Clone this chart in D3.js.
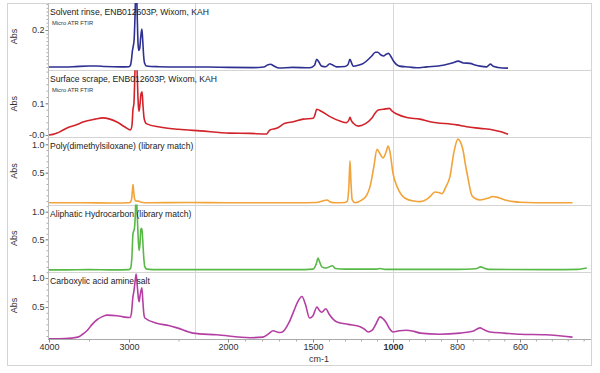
<!doctype html>
<html lang='en'>
<head>
<meta charset='UTF-8'>
<title>FTIR spectra</title>
<script src='https://cdn.jsdelivr.net/npm/d3@7/dist/d3.min.js'></script>
<style>
    body { margin: 0; background: #fff; }
    text { font-family: Arial, 'Liberation Sans', sans-serif; }
</style>
</head>
<body>
<div id='chart'></div>
<script>
    const SIZE = { width: 600, height: 373 };
    const PLOT = { left: 48, right: 591, top: 3, bottom: 339 };

    // x axis: wavenumber, drawn with a piecewise (compressed) scale
    const xBreaks = [4000, 3000, 2000, 1500, 1000, 800, 600, 380];
    const xBreakPx = [49, 129, 228, 313, 393, 457, 520, 590];
    const xTicks = [4000, 3000, 2000, 1500, 1000, 800, 600];
    const xGrid = [2330, 1000];

    const panelTitles = [
        'Solvent rinse, ENB012603P, Wixom, KAH',
        'Surface scrape, ENB012603P, Wixom, KAH',
        'Poly(dimethylsiloxane) (library match)',
        'Aliphatic Hydrocarbon (library match)',
        'Carboxylic acid amine salt'
    ];
    const panelSubtitles = ['Micro ATR FTIR', 'Micro ATR FTIR', '', '', ''];
    const panelColors = ['#2e3192', '#d2232a', '#f2a33a', '#58b947', '#b43fa3'];
    const yDomains = [[-0.017, 0.346], [-0.0076, 0.2044], [-0.062, 1.121], [-0.089, 1.129], [-0.052, 1.107]];
    const yTickValues = [[0.2], [0.1, 0], [1.0, 0.5], [1.0, 0.5], [1.0, 0.5]];
    const yTickLabels = [['0.2'], ['0.1', '-0.0'], ['1.0', '0.5'], ['1.0', '0.5'], ['1.0', '0.5']];
    const yMinorStep = [0.02, 0.02, 0.1, 0.1, 0.1];

    // [wavenumber cm-1, absorbance]
    const solventRinse = [[4000,0],[3900,0],[3700,0.002],[3500,0.006],[3400,0.006],[3300,0.003],[3100,0.001],[3000,0.002],[2985,0.01],[2975,0.04],[2965,0.09],[2958,0.11],[2948,0.15],[2938,0.3],[2928,0.5],[2918,0.3],[2908,0.12],[2900,0.09],[2892,0.1],[2882,0.16],[2870,0.205],[2862,0.15],[2852,0.06],[2842,0.02],[2825,0.006],[2700,0.002],[2500,0],[2200,0],[2000,-0.002],[1850,-0.003],[1790,0],[1765,0.012],[1750,0.015],[1730,0.006],[1700,-0.005],[1620,-0.002],[1520,-0.004],[1490,0.01],[1477,0.042],[1465,0.03],[1446,0.005],[1420,0.002],[1395,0.018],[1380,0.012],[1352,0.001],[1300,0.003],[1282,0.012],[1269,0.042],[1258,0.02],[1248,0.004],[1215,0.01],[1185,0.02],[1150,0.045],[1133,0.06],[1110,0.08],[1095,0.08],[1075,0.065],[1060,0.06],[1040,0.07],[1029,0.074],[1015,0.06],[999,0.034],[980,0.005],[950,0],[926,-0.004],[895,0.001],[843,0.01],[815,0.022],[796,0.032],[780,0.022],[759,0.02],[740,0.01],[727,0.005],[706,0.001],[694,0.016],[685,0.004],[670,-0.002],[638,-0.006]];
    const surfaceScrape = [[4000,0],[3950,0.002],[3900,0.006],[3850,0.012],[3775,0.022],[3650,0.033],[3575,0.041],[3425,0.05],[3325,0.054],[3240,0.05],[3150,0.041],[3050,0.025],[2985,0.016],[2970,0.03],[2960,0.08],[2950,0.1],[2940,0.2],[2928,0.3],[2918,0.2],[2905,0.09],[2898,0.075],[2888,0.1],[2878,0.13],[2868,0.136],[2858,0.09],[2848,0.054],[2835,0.04],[2820,0.035],[2690,0.025],[2500,0.018],[2280,0.013],[1990,0.006],[1871,0.005],[1773,0.003],[1760,0.012],[1753,0.016],[1714,0.021],[1665,0.037],[1616,0.042],[1557,0.05],[1498,0.053],[1487,0.065],[1477,0.081],[1446,0.074],[1394,0.058],[1331,0.044],[1290,0.039],[1275,0.048],[1269,0.056],[1260,0.045],[1248,0.037],[1217,0.028],[1175,0.035],[1133,0.053],[1110,0.07],[1092,0.079],[1060,0.081],[1023,0.084],[1005,0.075],[988,0.066],[957,0.055],[916,0.05],[884,0.042],[801,0.032],[769,0.026],[727,0.021],[685,0.016],[660,0.01],[638,0.002]];
    const pdms = [[4000,-0.03],[3600,-0.03],[3200,-0.035],[3000,-0.03],[2985,-0.02],[2972,0.05],[2965,0.2],[2960,0.29],[2954,0.2],[2945,0.05],[2930,0.0],[2905,0.0],[2880,-0.02],[2800,-0.03],[2400,-0.025],[2000,-0.03],[1600,-0.03],[1480,-0.025],[1440,0.0],[1412,0.02],[1395,-0.01],[1360,-0.03],[1300,-0.025],[1285,0.0],[1275,0.3],[1269,0.71],[1263,0.35],[1255,0.02],[1237,-0.03],[1194,0.02],[1165,0.1],[1144,0.25],[1120,0.6],[1100,0.91],[1085,0.85],[1062,0.76],[1045,0.85],[1030,0.97],[1018,0.85],[1000,0.49],[987,0.25],[975,0.12],[962,0.05],[935,0.0],[915,-0.01],[895,0.03],[884,0.08],[869,0.16],[857,0.15],[847,0.13],[835,0.25],[822,0.43],[810,0.85],[797,1.09],[790,1.05],[781,0.9],[772,0.6],[766,0.43],[753,0.1],[740,0.04],[727,0.02],[710,0.04],[695,0.065],[688,0.08],[675,0.07],[663,0.05],[648,0.02],[620,-0.01],[600,-0.02],[500,-0.03],[435,-0.03]];
    const aliphatic = [[4000,-0.055],[3800,-0.055],[3500,-0.05],[3200,-0.055],[3000,-0.05],[2985,-0.03],[2970,0.2],[2960,0.6],[2945,0.7],[2935,1.0],[2928,1.4],[2918,1.0],[2905,0.45],[2898,0.3],[2890,0.4],[2880,0.68],[2870,0.7],[2862,0.5],[2850,0.15],[2840,0.0],[2820,-0.04],[2700,-0.05],[2400,-0.05],[2000,-0.05],[1600,-0.05],[1500,-0.04],[1480,0.05],[1468,0.16],[1460,0.1],[1445,0.0],[1420,-0.02],[1378,0.02],[1360,-0.03],[1300,-0.04],[1100,-0.04],[1080,-0.03],[1050,-0.045],[900,-0.045],[800,-0.045],[740,-0.035],[725,0.0],[715,-0.02],[700,-0.045],[500,-0.05],[420,-0.045],[390,-0.02]];
    const amineSalt = [[4000,-0.05],[3800,-0.045],[3640,-0.02],[3580,0.03],[3520,0.1],[3460,0.2],[3400,0.28],[3340,0.33],[3275,0.36],[3150,0.35],[3075,0.33],[2990,0.32],[2975,0.4],[2962,0.65],[2948,0.8],[2938,0.95],[2928,1.07],[2918,0.9],[2905,0.65],[2898,0.59],[2888,0.7],[2870,0.83],[2860,0.6],[2850,0.38],[2840,0.31],[2720,0.22],[2600,0.18],[2515,0.14],[2355,0.05],[2115,0.02],[1870,-0.03],[1795,-0.02],[1760,0.04],[1735,0.09],[1700,0.06],[1680,0.07],[1640,0.24],[1610,0.45],[1590,0.59],[1565,0.68],[1545,0.55],[1520,0.31],[1500,0.35],[1475,0.5],[1460,0.44],[1445,0.41],[1420,0.47],[1400,0.38],[1350,0.24],[1280,0.2],[1205,0.16],[1180,0.12],[1155,0.07],[1130,0.1],[1110,0.19],[1080,0.33],[1060,0.29],[1045,0.24],[1020,0.12],[1000,0.07],[980,0.09],[960,0.1],[935,0.08],[915,0.05],[855,0.03],[790,0.05],[750,0.08],[727,0.14],[715,0.11],[695,0.07],[650,0.05],[600,0.03],[520,0.02],[435,-0.02]];
    const spectra = [solventRinse, surfaceScrape, pdms, aliphatic, amineSalt];

    function draw() {
        const svg = d3.select('#chart').append('svg')
            .attr('width', SIZE.width).attr('height', SIZE.height);

        // outer frame
        svg.append('rect')
            .attr('x', 7.5).attr('y', 3.5).attr('width', 584).attr('height', 362)
            .attr('fill', 'none').attr('stroke', '#d4d4d4');

        const x = d3.scaleLinear().domain(xBreaks).range(xBreakPx);
        const ph = (PLOT.bottom - PLOT.top) / spectra.length;

        // vertical grid lines
        svg.selectAll('.vgrid').data(xGrid).enter().append('line')
            .attr('x1', d => Math.round(x(d)) + 0.5).attr('x2', d => Math.round(x(d)) + 0.5)
            .attr('y1', PLOT.top).attr('y2', PLOT.bottom)
            .attr('stroke', '#d8d8d8');

        spectra.forEach(function (data, i) {
            const top = PLOT.top + i * ph;
            const bottom = top + ph;
            const y = d3.scaleLinear().domain(yDomains[i]).range([bottom, top]);
            const g = svg.append('g');

            // panel separator
            g.append('line')
                .attr('x1', PLOT.left).attr('x2', PLOT.right)
                .attr('y1', Math.round(top) + 0.5).attr('y2', Math.round(top) + 0.5)
                .attr('stroke', '#d4d4d4');

            // minor y ticks
            const step = yMinorStep[i];
            const minor = d3.range(Math.ceil(yDomains[i][0] / step) * step, yDomains[i][1], step);
            const minorAxis = g.append('g')
                .attr('transform', 'translate(' + (PLOT.left + 0.5) + ',0)')
                .call(d3.axisLeft(y).tickValues(minor).tickSize(2).tickFormat(''));
            minorAxis.select('.domain').remove();
            minorAxis.selectAll('line').attr('stroke', '#aaa');

            // labelled y ticks
            const yAxis = g.append('g')
                .attr('transform', 'translate(' + (PLOT.left + 0.5) + ',0)')
                .call(d3.axisLeft(y).tickValues(yTickValues[i]).tickSize(3).tickPadding(1)
                    .tickFormat((d, j) => yTickLabels[i][j]));
            yAxis.select('.domain').remove();
            yAxis.selectAll('line').attr('stroke', '#888');
            yAxis.selectAll('text').style('font-size', '9px').attr('fill', '#333')
                .style('font-family', 'Arial, Liberation Sans, sans-serif');

            g.append('text')
                .attr('transform', 'translate(17,' + (top + ph / 2) + ')rotate(-90)')
                .attr('text-anchor', 'middle')
                .style('font-size', '9px').attr('fill', '#333')
                .text('Abs');

            // spectrum
            const clipId = 'clip' + i;
            svg.append('clipPath').attr('id', clipId).append('rect')
                .attr('x', PLOT.left).attr('y', top).attr('width', PLOT.right - PLOT.left).attr('height', ph);
            const line = d3.line()
                .x(d => x(d[0]))
                .y(d => y(d[1]))
                .curve(d3.curveMonotoneX);
            g.append('path')
                .attr('d', line(data))
                .attr('clip-path', 'url(#' + clipId + ')')
                .attr('fill', 'none')
                .attr('stroke', panelColors[i])
                .attr('stroke-width', 1.6)
                .attr('stroke-linejoin', 'round');

            g.append('text')
                .attr('x', PLOT.left + 2).attr('y', top + 12)
                .style('font-size', '8.6px').attr('fill', '#222')
                .text(panelTitles[i]);
            if (panelSubtitles[i]) {
                g.append('text')
                    .attr('x', PLOT.left + 4).attr('y', top + 21.5)
                    .style('font-size', '5.8px').attr('fill', '#333')
                    .text(panelSubtitles[i]);
            }
        });

        // left axis line
        svg.append('line')
            .attr('x1', PLOT.left + 0.5).attr('x2', PLOT.left + 0.5)
            .attr('y1', PLOT.top).attr('y2', PLOT.bottom)
            .attr('stroke', '#bbb');

        // x axis
        const minorX = d3.range(4000, 2000, -500).concat(d3.range(2000, 1000, -100), d3.range(1000, 380, -50));
        const xMinor = svg.append('g')
            .attr('transform', 'translate(0,' + (PLOT.bottom + 0.5) + ')')
            .call(d3.axisBottom(x).tickValues(minorX).tickSize(2).tickFormat(''));
        xMinor.select('.domain').attr('stroke', '#aaa').attr('d', 'M' + PLOT.left + ',0H' + PLOT.right);
        xMinor.selectAll('line').attr('stroke', '#aaa');

        const xAxis = svg.append('g')
            .attr('transform', 'translate(0,' + (PLOT.bottom + 0.5) + ')')
            .call(d3.axisBottom(x).tickValues(xTicks).tickSize(3).tickPadding(1).tickFormat(d3.format('d')));
        xAxis.select('.domain').remove();
        xAxis.selectAll('line').attr('stroke', '#888');
        xAxis.selectAll('text').style('font-size', '9px').attr('fill', '#333')
            .style('font-family', 'Arial, Liberation Sans, sans-serif')
            .style('font-weight', d => d === 1000 ? 'bold' : 'normal');

        svg.append('text')
            .attr('x', 319).attr('y', 362)
            .attr('text-anchor', 'middle')
            .style('font-size', '9px').attr('fill', '#333')
            .text('cm-1');
    }

    draw();
</script>
</body>
</html>
